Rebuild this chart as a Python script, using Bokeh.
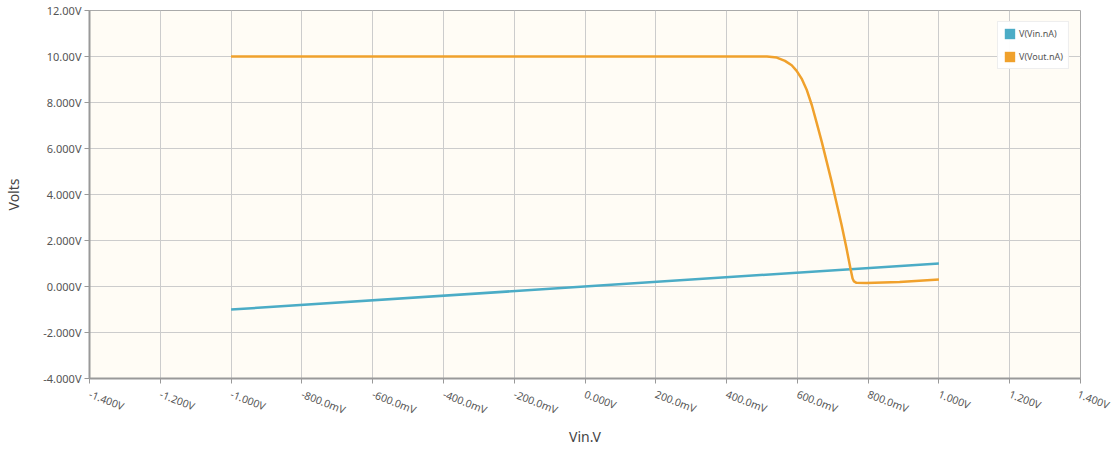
from bokeh.plotting import figure
from bokeh.models import FixedTicker, Legend, LegendItem
from bokeh.embed import file_html
from bokeh.resources import INLINE

nan = float("nan")

# ---- data ----
vin_sweep = [-1.0, 1.0]
v_vin = [-1.0, 1.0]

vout_x = [-1.0, 0.467, 0.514, 0.542, 0.565, 0.584, 0.598, 0.612, 0.627, 0.641,
          0.655, 0.669, 0.683, 0.697, 0.711, 0.725, 0.739, 0.750, 0.756, 0.760,
          0.767, 0.795, 0.889, 1.0]
vout_y = [10.0, 10.0, 10.0, 9.955, 9.81, 9.62, 9.375, 9.04, 8.53, 7.88,
          7.09, 6.29, 5.42, 4.55, 3.61, 2.67, 1.65, 0.78, 0.35, 0.22,
          0.16, 0.15, 0.20, 0.30]

x_ticks = [-1.4, -1.2, -1.0, -0.8, -0.6, -0.4, -0.2, 0.0, 0.2, 0.4, 0.6, 0.8, 1.0, 1.2, 1.4]
x_tick_labels = ["-1.400V", "-1.200V", "-1.000V", "-800.0mV", "-600.0mV", "-400.0mV",
                 "-200.0mV", "0.000V", "200.0mV", "400.0mV", "600.0mV", "800.0mV",
                 "1.000V", "1.200V", "1.400V"]
y_ticks = [-4, -2, 0, 2, 4, 6, 8, 10, 12]
y_tick_labels = ["-4.000V", "-2.000V", "0.000V", "2.000V", "4.000V", "6.000V",
                 "8.000V", "10.00V", "12.00V"]
series_names = ["V(Vin.nA)", "V(Vout.nA)"]
series_colors = ["#4BACC6", "#F0A12C"]
x_title = "Vin.V"
y_title = "Volts"

p = figure(width=1111, height=457, output_backend="svg", toolbar_location=None,
           x_range=(-1.4, 1.4), y_range=(-4, 12),
           min_border_left=89, min_border_right=31, min_border_top=10, min_border_bottom=79)
p.background_fill_color = "#FFFCF5"
p.border_fill_color = "white"
p.outline_line_color = "#aaaaaa"
p.outline_line_width = 1

r1 = p.line(vin_sweep, v_vin, line_color=series_colors[0], line_width=2.5)
r2 = p.line(vout_x, vout_y, line_color=series_colors[1], line_width=2.5)

# square swatches for the legend only (a single NaN box, never drawn)
s1 = p.quad(left=[nan], right=[nan], top=[nan], bottom=[nan],
            fill_color=series_colors[0], line_color=None)
s2 = p.quad(left=[nan], right=[nan], top=[nan], bottom=[nan],
            fill_color=series_colors[1], line_color=None)

p.xaxis.ticker = FixedTicker(ticks=x_ticks)
p.yaxis.ticker = FixedTicker(ticks=y_ticks)
p.xaxis.major_label_overrides = {t: l for t, l in zip(x_ticks, x_tick_labels)}
p.yaxis.major_label_overrides = {t: l for t, l in zip(y_ticks, y_tick_labels)}

for ax in (p.xaxis[0], p.yaxis[0]):
    ax.axis_line_color = "#999999"
    ax.axis_line_width = 2
    ax.major_tick_line_color = "#999999"
    ax.major_tick_in = 0
    ax.major_tick_out = 5
    ax.minor_tick_line_color = None
    ax.major_label_text_font = "Noto Sans"
    ax.major_label_text_color = "#555555"
    ax.axis_label_text_font = "Noto Sans"
    ax.axis_label_text_font_size = "14px"
    ax.axis_label_text_font_style = "normal"
    ax.axis_label_text_color = "#444444"

p.yaxis.major_label_text_font_size = "11px"
p.xaxis.major_label_text_font_size = "10.5px"
p.xaxis.major_label_orientation = -0.37
p.xaxis.major_label_standoff = 10
p.xaxis.axis_label = x_title
p.xaxis.axis_label_standoff = 1
p.yaxis.axis_label = y_title
p.yaxis.major_label_standoff = 3
p.yaxis.axis_label_standoff = 17

p.xgrid.grid_line_color = "#cccccc"
p.ygrid.grid_line_color = "#cccccc"

legend = Legend(items=[LegendItem(label=series_names[0], renderers=[s1]),
                       LegendItem(label=series_names[1], renderers=[s2])],
                location="top_right")
legend.margin = 11
legend.padding = 5
legend.spacing = 10
legend.glyph_width = 13
legend.glyph_height = 13
legend.label_text_font = "Noto Sans"
legend.label_text_font_size = "9px"
legend.label_text_color = "#555555"
legend.border_line_color = "#dddddd"
legend.background_fill_color = "white"
legend.label_standoff = 3
p.add_layout(legend)

open("out.html", "w").write(file_html(p, INLINE))
